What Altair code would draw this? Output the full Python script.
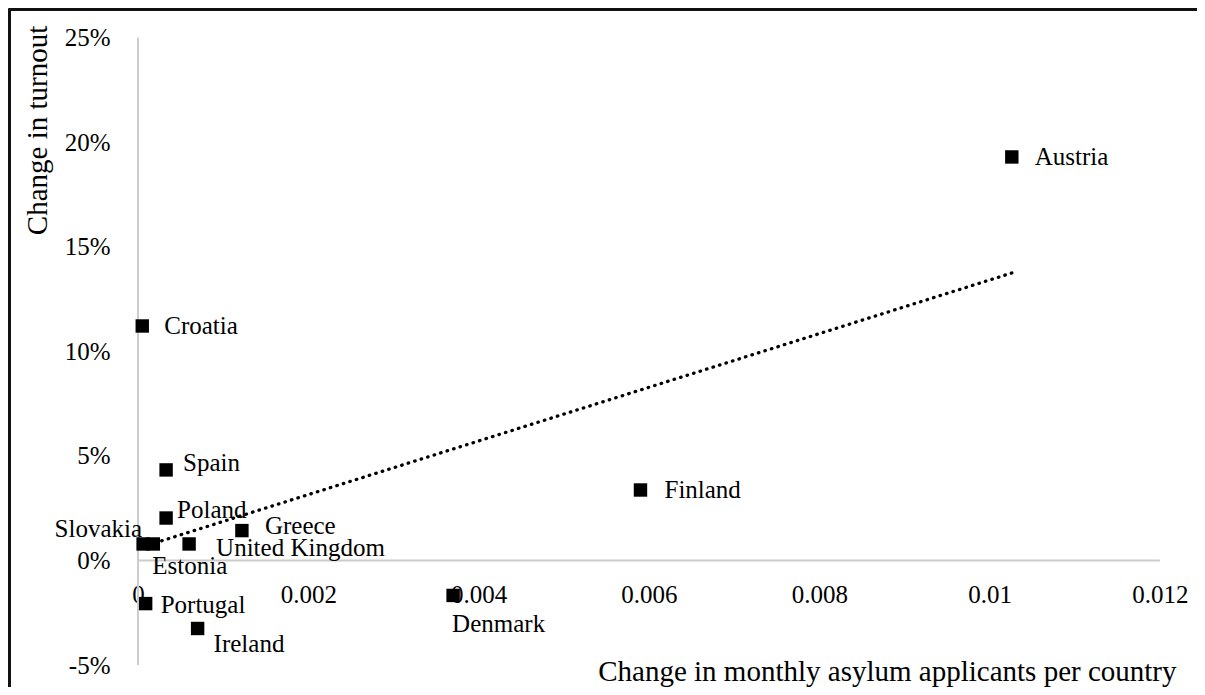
import altair as alt
import pandas as pd

# ---------------- data ----------------
countries = ["Austria", "Croatia", "Spain", "Poland", "Slovakia", "Estonia",
             "United Kingdom", "Greece", "Finland", "Denmark", "Portugal", "Ireland"]
asylum_change = [0.01026, 0.00005, 0.00033, 0.00033, 0.00006, 0.00018,
                 0.00060, 0.00122, 0.00590, 0.00370, 0.00009, 0.00070]
turnout_change = [0.1929, 0.1121, 0.0433, 0.0203, 0.0079, 0.0079,
                  0.0079, 0.0143, 0.0337, -0.0167, -0.0206, -0.0325]

x_ticks = [0, 0.002, 0.004, 0.006, 0.008, 0.01, 0.012]
y_ticks = [-0.05, 0, 0.05, 0.10, 0.15, 0.20, 0.25]
x_axis_span = [0, 0.012]
y_axis_span = [-0.05, 0.25]

x_title = "Change in monthly asylum applicants per country"
y_title = "Change in turnout"

df = pd.DataFrame({"country": countries, "x": asylum_change, "y": turnout_change})

# ---------------- styling / layout ----------------
FONT = "Liberation Serif"
W, H = 1189, 679
x_dom = [-0.0015264, 0.0124345]
y_dom = [-0.060469, 0.264101]

# label placement: (dx, dy, align) relative to the marker
label_style = {
    "Austria": (23, 0, "left"),
    "Croatia": (22, 0, "left"),
    "Finland": (24, 0, "left"),
    "Portugal": (15, 1, "left"),
    "United Kingdom": (27, 4, "left"),
    "Spain": (17, -7, "left"),
    "Poland": (11, -8, "left"),
    "Greece": (23, -5, "left"),
    "Slovakia": (-1, -15, "right"),
    "Estonia": (-1, 22, "left"),
    "Denmark": (-1, 29, "left"),
    "Ireland": (16, 16, "left"),
}

x_scale = alt.Scale(domain=x_dom, nice=False, zero=False)
y_scale = alt.Scale(domain=y_dom, nice=False, zero=False)

x_axis = alt.Axis(
    orient="top", values=x_ticks, title=x_title, grid=False,
    ticks=False, tickSize=0, domain=True, domainColor="#111111", domainWidth=5,
    labelFont=FONT, labelFontSize=25, labelColor="black",
    labelPadding=-594, labelBaseline="alphabetic", labelAlign="center",
    labelFlush=False, labelOverlap=False,
    labelExpr="format(datum.value, '~g')",
    titleFont=FONT, titleFontSize=29, titleFontWeight="normal", titleColor="black",
    titleX=1168, titleY=672, titleAlign="right", titleBaseline="alphabetic", titleAngle=0,
)
y_axis = alt.Axis(
    orient="left", values=y_ticks, title=y_title, grid=False,
    ticks=False, tickSize=0, domain=True, domainColor="#111111", domainWidth=5,
    labelFont=FONT, labelFontSize=25, labelColor="black",
    labelPadding=-102, labelBaseline="middle", labelAlign="right",
    labelFlush=False, labelOverlap=False,
    labelExpr="(datum.value < 0 ? '-' : '') + format(abs(datum.value), '.0%')",
    titleFont=FONT, titleFontSize=29, titleFontWeight="normal", titleColor="black",
    titleX=29, titleY=122, titleAlign="center", titleBaseline="middle", titleAngle=270,
)

X = alt.X("x:Q", scale=x_scale, axis=x_axis)
Y = alt.Y("y:Q", scale=y_scale, axis=y_axis)

vrule = alt.Chart(pd.DataFrame({"x": [0], "y": [y_axis_span[0]], "y2": [y_axis_span[1]]})).mark_rule(
    color="#cccccc", strokeWidth=2
).encode(x=X, y=Y, y2="y2:Q")

hrule = alt.Chart(pd.DataFrame({"x": [x_axis_span[0]], "x2": [x_axis_span[1]], "y": [0]})).mark_rule(
    color="#cccccc", strokeWidth=2
).encode(x=X, x2="x2:Q", y=Y)

trend = alt.Chart(df).transform_regression("x", "y").mark_line(
    color="black", strokeWidth=3.3, strokeDash=[0.5, 6.3], strokeCap="round"
).encode(x=X, y=Y)

points = alt.Chart(df).mark_point(
    shape="square", filled=True, size=180, color="black", opacity=1
).encode(x=X, y=Y)

label_layers = []
for name, (dx, dy, align) in label_style.items():
    label_layers.append(
        alt.Chart(df).transform_filter(alt.datum.country == name).mark_text(
            align=align, baseline="middle", dx=dx, dy=dy,
            font=FONT, fontSize=25, color="black"
        ).encode(x=X, y=Y, text="country:N")
    )

chart = alt.layer(vrule, hrule, trend, points, *label_layers).properties(
    width=W, height=H, padding=0,
    autosize=alt.AutoSizeParams(type="none"),
    background="white",
).configure_view(stroke=None)

chart.save("out.html", embed_options={"renderer": "svg", "actions": False})
